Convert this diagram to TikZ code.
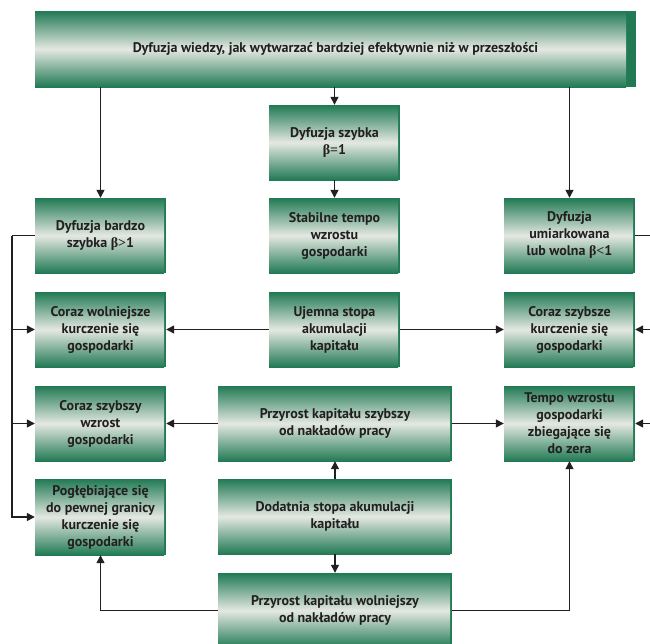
\documentclass[tikz,border=0pt]{standalone}
\usepackage{fontspec}
\setmainfont{PT Sans}
\newfontfamily\grk{Liberation Serif}
\usetikzlibrary{arrows.meta}
\definecolor{dkgreen}{RGB}{33,122,84}
\definecolor{ltgreen}{RGB}{228,232,226}
\definecolor{ink}{RGB}{35,31,32}
\tikzset{
  gbox/.style={fill=dkgreen, inner sep=0pt, align=center, text=ink,
    font=\bfseries\fontsize{14}{17}\selectfont,
    path picture={\shade[top color=dkgreen, bottom color=dkgreen, middle color=ltgreen]
      (path picture bounding box.south west) rectangle ([xshift=-#1]path picture bounding box.north east);}},
  gbox/.default=2pt,
  smallbox/.style={gbox, minimum width=131pt, minimum height=75pt},
  widebox/.style={gbox, minimum width=234pt, minimum height=75pt},
  arr/.style={draw=ink, line width=1.3pt, -{Triangle[length=8pt,width=8pt]}},
  ln/.style={draw=ink, line width=1.3pt}
}
\begin{document}
\begin{tikzpicture}[x=1pt,y=-1pt]
\useasboundingbox (0,0) rectangle (650,643);
\node[gbox=10pt, minimum width=601pt, minimum height=76pt] (top) at (335.5,49) {Dyfuzja wiedzy, jak wytwarzać bardziej efektywnie niż w przeszłości};
% left column
\node[smallbox] (lb1) at (100.5,235.5) {Dyfuzja bardzo\\szybka {\grk β>}1};
\node[smallbox] (lb2) at (100.5,329.5) {Coraz wolniejsze\\kurczenie się\\gospodarki};
\node[smallbox] (lb3) at (100.5,423.5) {Coraz szybszy\\wzrost\\gospodarki};
\node[smallbox, minimum height=76pt] (lb4) at (100.5,517) {Pogłębiające się\\do pewnej granicy\\kurczenie się\\gospodarki};
% center column
\node[smallbox] (c1) at (334.5,142.5) {Dyfuzja szybka\\{\grk β=}1};
\node[smallbox] (c2) at (334.5,235.5) {Stabilne tempo\\wzrostu\\gospodarki};
\node[smallbox] (c3) at (334.5,329.5) {Ujemna stopa\\akumulacji\\kapitału};
\node[widebox] (w1) at (335,423.5) {Przyrost kapitału szybszy\\od nakładów pracy};
\node[widebox] (w2) at (335,516.5) {Dodatnia stopa akumulacji\\kapitału};
\node[widebox] (w3) at (335,610.5) {Przyrost kapitału wolniejszy\\od nakładów pracy};
% right column
\node[smallbox] (rb1) at (569.5,235.5) {Dyfuzja\\umiarkowana\\lub wolna {\grk β<}1};
\node[smallbox] (rb2) at (569.5,329.5) {Coraz szybsze\\kurczenie się\\gospodarki};
\node[smallbox] (rb3) at (569.5,423.5) {Tempo wzrostu\\gospodarki\\zbiegające się\\do zera};
% connectors from top
\draw[arr] (lb1.north |- top.south) -- (lb1.north);
\draw[arr] (c1.north |- top.south) -- (c1.north);
\draw[arr] (rb1.north |- top.south) -- (rb1.north);
\draw[arr] (c1) -- (c2);
% left bus
\coordinate (busL) at (12,235.5);
\draw[ln] (lb1.west) -- (busL);
\draw[arr] (busL) |- (lb4.west);
\draw[arr] (busL |- lb2.west) -- (lb2.west);
\draw[arr] (busL |- lb3.west) -- (lb3.west);
% right bus
\coordinate (busR) at (656,235.5);
\draw[ln] (rb1.east) -- (busR);
\draw[arr] (busR) |- (rb3.east);
\draw[arr] (busR |- rb2.east) -- (rb2.east);
% center arrows
\draw[arr] (c3) -- (lb2);
\draw[arr] (c3) -- (rb2);
\draw[arr] (w1) -- (lb3);
\draw[arr] (w1) -- (rb3);
\draw[arr] (w2) -- (w1);
\draw[arr] (w2) -- (w3);
\draw[arr] (w3.west) -| (lb4.south);
\draw[arr] (w3.east) -| (rb3.south);
\end{tikzpicture}
\end{document}
